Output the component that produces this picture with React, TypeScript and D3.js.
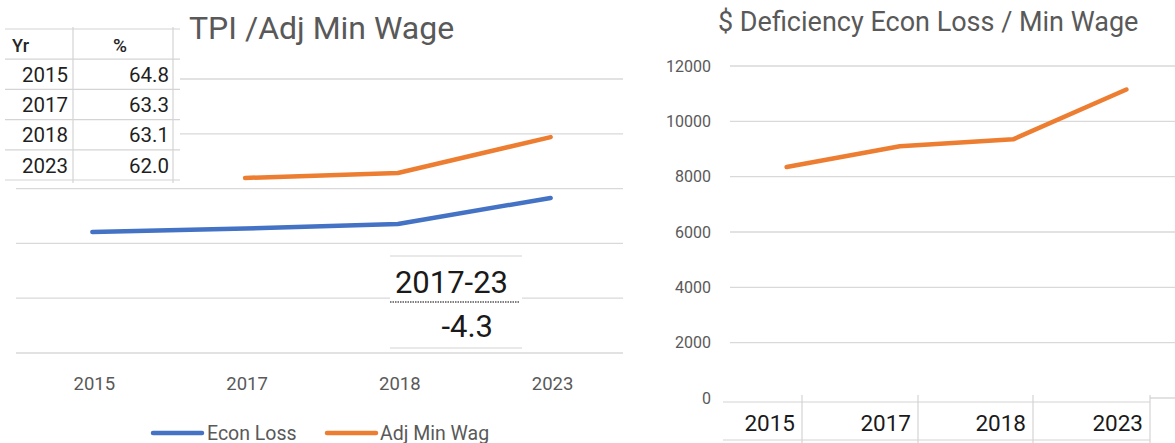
import React from "react";
import * as d3 from "d3";

const categories = ["2015", "2017", "2018", "2023"];
const econLoss = [4420, 4540, 4710, 5660];
const adjMinWage: (number | null)[] = [null, 6390, 6570, 7880];
const deficiency = [8350, 9100, 9350, 11150];
const leftTicks = [0, 2000, 4000, 6000, 8000, 10000];
const rightTicks = [0, 2000, 4000, 6000, 8000, 10000, 12000];
const tableYears = ["2015", "2017", "2018", "2023"];
const tablePct = ["64.8", "63.3", "63.1", "62.0"];
const noteLabel = "2017-23";
const noteValue = "-4.3";

const FONT = "Roboto, 'Liberation Sans', sans-serif";
const GREY = "#595959";
const GRID = "#d9d9d9";
const CELL = "#d4d4d4";
const BLUE = "#4472C4";
const ORANGE = "#ED7D31";

export default function App() {
  // Left chart scales
  const xL = d3.scaleBand<string>().domain(categories).range([16, 627]);
  const cxL = (c: string) => (xL(c) as number) + xL.bandwidth() / 2;
  const yL = d3.scaleLinear().domain([0, 10000]).range([353, 79]);

  const lineL = d3
    .line<number | null>()
    .defined((d) => d != null)
    .x((_, i) => cxL(categories[i]))
    .y((d) => yL(d as number));

  // Right chart scales
  const xR = d3.scaleBand<string>().domain(categories).range([730, 1183]);
  const cxR = (c: string) => (xR(c) as number) + xR.bandwidth() / 2;
  const yR = d3.scaleLinear().domain([0, 12000]).range([398, 66]);
  const lineR = d3
    .line<number>()
    .x((_, i) => cxR(categories[i]))
    .y((d) => yR(d));

  // table layout
  const rowTop = 29;
  const rowH = 30.2;
  const cellEdgesR = [723, 802, 918, 1033, 1150];

  return (
    <svg
      width={1175}
      height={443}
      style={{ position: "absolute", left: 0, top: 0, background: "#fff", fontFamily: FONT }}
    >
      <rect x={0} y={0} width={1175} height={443} fill="#fff" />

      {/* ---------- LEFT CHART ---------- */}
      <text x={189} y={39} fontSize={32} fill={GREY}>
        TPI /Adj Min Wage
      </text>

      {leftTicks.map((t) => (
        <line key={t} x1={16} x2={623} y1={yL(t)} y2={yL(t)} stroke={GRID} strokeWidth={1.3} />
      ))}

      {/* data table overlay */}
      <rect x={5} y={27} width={175} height={156} fill="#fff" />
      {d3.range(6).map((i) => (
        <line
          key={i}
          x1={5}
          x2={180}
          y1={rowTop + i * rowH}
          y2={rowTop + i * rowH}
          stroke={CELL}
          strokeWidth={1.2}
        />
      ))}
      {[73, 173].map((x) => (
        <line key={x} x1={x} x2={x} y1={27} y2={183} stroke={CELL} strokeWidth={1.2} />
      ))}
      <text x={12} y={52} fontSize={18} fontWeight={500} fill="#262626">
        Yr
      </text>
      <text x={120} y={52} fontSize={19} fontWeight={500} fill="#262626" textAnchor="middle">
        %
      </text>
      {tableYears.map((yr, i) => (
        <g key={yr}>
          <text x={68} y={82 + i * rowH} fontSize={20.5} fill="#1f1f1f" textAnchor="end">
            {yr}
          </text>
          <text x={169} y={82 + i * rowH} fontSize={20.5} fill="#1f1f1f" textAnchor="end">
            {tablePct[i]}
          </text>
        </g>
      ))}

      {/* series */}
      <path
        d={lineL(econLoss) || ""}
        fill="none"
        stroke={BLUE}
        strokeWidth={4.5}
        strokeLinecap="round"
        strokeLinejoin="round"
      />
      <path
        d={lineL(adjMinWage) || ""}
        fill="none"
        stroke={ORANGE}
        strokeWidth={4.5}
        strokeLinecap="round"
        strokeLinejoin="round"
      />

      {/* annotation cells */}
      <rect x={390} y={256} width={132} height={93} fill="#fff" />
      <line x1={390} x2={522} y1={256} y2={256} stroke={CELL} strokeWidth={1.2} />
      <line x1={390} x2={522} y1={348} y2={348} stroke={CELL} strokeWidth={1.2} />
      <line
        x1={390}
        x2={520}
        y1={302}
        y2={302}
        stroke="#555"
        strokeWidth={1.3}
        strokeDasharray="1.5,1"
      />
      <text x={508} y={293} fontSize={31} fill="#1a1a1a" textAnchor="end">
        {noteLabel}
      </text>
      <text x={493} y={337} fontSize={31} fill="#1a1a1a" textAnchor="end">
        {noteValue}
      </text>

      {/* x labels */}
      {categories.map((c) => (
        <text key={c} x={cxL(c) + 2} y={390} fontSize={18.5} fill={GREY} textAnchor="middle">
          {c}
        </text>
      ))}

      {/* legend */}
      <line x1={153} x2={202} y1={433} y2={433} stroke={BLUE} strokeWidth={4.5} strokeLinecap="round" />
      <text x={207} y={439.5} fontSize={19.5} fill={GREY}>
        Econ Loss
      </text>
      <line x1={327} x2={376} y1={433} y2={433} stroke={ORANGE} strokeWidth={4.5} strokeLinecap="round" />
      <text x={380} y={439.5} fontSize={19.5} fill={GREY}>
        Adj Min Wag
      </text>

      {/* ---------- RIGHT CHART ---------- */}
      <text x={718} y={31} fontSize={27} fill={GREY}>
        $ Deficiency Econ Loss / Min Wage
      </text>

      {rightTicks.map((t) => (
        <g key={t}>
          <line x1={730} x2={1175} y1={yR(t)} y2={yR(t)} stroke={GRID} strokeWidth={1.3} />
          <text x={711} y={yR(t) + 5.5} fontSize={16} fill={GREY} textAnchor="end">
            {t}
          </text>
        </g>
      ))}

      {/* category cell table */}
      <rect x={723} y={395} width={427} height={48} fill="#fff" />
      <line x1={723} x2={1150} y1={402} y2={402} stroke={CELL} strokeWidth={1.2} />
      <line x1={723} x2={1150} y1={440} y2={440} stroke={CELL} strokeWidth={1.2} />
      {cellEdgesR.slice(1).map((x) => (
        <line key={x} x1={x} x2={x} y1={395} y2={443} stroke={CELL} strokeWidth={1.2} />
      ))}
      {categories.map((c, i) => (
        <text key={c} x={cellEdgesR[i + 1] - 7} y={431} fontSize={22.5} fill="#1a1a1a" textAnchor="end">
          {c}
        </text>
      ))}

      <path
        d={lineR(deficiency) || ""}
        fill="none"
        stroke={ORANGE}
        strokeWidth={4.5}
        strokeLinecap="round"
        strokeLinejoin="round"
      />
    </svg>
  );
}
